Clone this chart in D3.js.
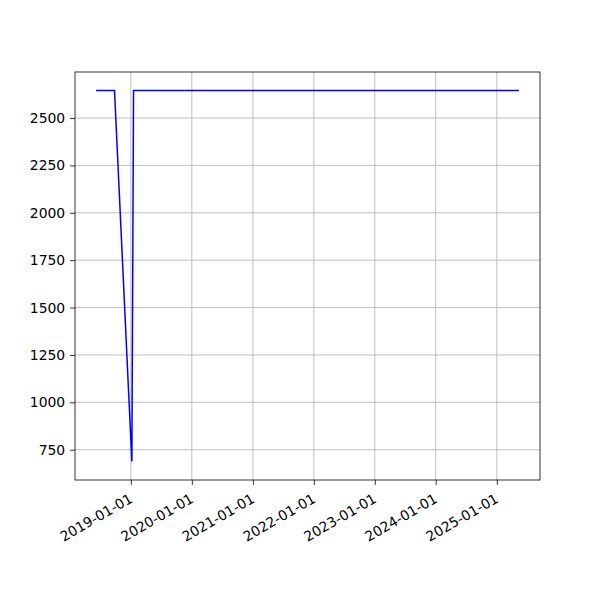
<!DOCTYPE html>
<html><head><meta charset="utf-8">
<script src="https://cdn.jsdelivr.net/npm/d3@7"></script>
<style>body{margin:0;background:#fff}</style>
</head><body>
<svg id="c" width="600" height="600"></svg>
<script>
const dates = ["2018-06-07","2018-09-25","2019-01-07","2019-01-17","2025-05-13"];
const values = [2645, 2645, 688, 2645, 2645];
const yTicks = [750,1000,1250,1500,1750,2000,2250,2500];
const xTickLabels = ["2019-01-01","2020-01-01","2021-01-01","2022-01-01","2023-01-01","2024-01-01","2025-01-01"];

const parse = d3.utcParse("%Y-%m-%d");
const data = dates.map((d,i)=>({t:parse(d), v:values[i]}));
const L=75, R=540, T=72, B=480;
const svg = d3.select("#c");
const font = "DejaVu Sans, sans-serif";
const fs = 13.9;

const tExt = d3.extent(data,d=>+d.t), tPad=(tExt[1]-tExt[0])*0.05;
const x = d3.scaleUtc().domain([new Date(tExt[0]-tPad), new Date(tExt[1]+tPad)]).range([L,R]);
const vExt = d3.extent(values), vPad=(vExt[1]-vExt[0])*0.05;
const y = d3.scaleLinear().domain([vExt[0]-vPad, vExt[1]+vPad]).range([B,T]);

const xTicks = xTickLabels.map(parse);
// grid
svg.append("g").selectAll("line").data(xTicks).join("line")
  .attr("x1",d=>x(d)).attr("x2",d=>x(d)).attr("y1",T).attr("y2",B)
  .attr("stroke","#b0b0b0").attr("stroke-width",0.8);
svg.append("g").selectAll("line").data(yTicks).join("line")
  .attr("x1",L).attr("x2",R).attr("y1",d=>y(d)).attr("y2",d=>y(d))
  .attr("stroke","#b0b0b0").attr("stroke-width",0.8);

// line
svg.append("path").datum(data)
  .attr("d", d3.line().x(d=>x(d.t)).y(d=>y(d.v)))
  .attr("fill","none").attr("stroke","#0000ff").attr("stroke-width",1.5);

// axes
const xa = svg.append("g").attr("transform",`translate(0,${B})`)
  .call(d3.axisBottom(x).tickValues(xTicks).tickFormat(d3.utcFormat("%Y-%m-%d")).tickSize(4.9).tickPadding(4.9));
xa.select(".domain").remove();
xa.selectAll("text").attr("font-family",font).attr("font-size",fs).attr("fill","#000")
  .attr("text-anchor","end").attr("dy",null).attr("y",0).attr("x",0)
  .attr("transform","translate(-3,12.5) rotate(-30)").attr("dominant-baseline","hanging");
const ya = svg.append("g").attr("transform",`translate(${L},0)`)
  .call(d3.axisLeft(y).tickValues(yTicks).tickSize(4.9).tickPadding(4.9).tickFormat(d3.format("d")));
ya.select(".domain").remove();
ya.selectAll("text").attr("font-family",font).attr("font-size",fs).attr("fill","#000");
svg.selectAll(".tick line").attr("stroke","#000").attr("stroke-width",0.8);

svg.append("rect").attr("x",L).attr("y",T).attr("width",R-L).attr("height",B-T)
  .attr("fill","none").attr("stroke","#000").attr("stroke-width",0.8);
</script>
</body></html>
